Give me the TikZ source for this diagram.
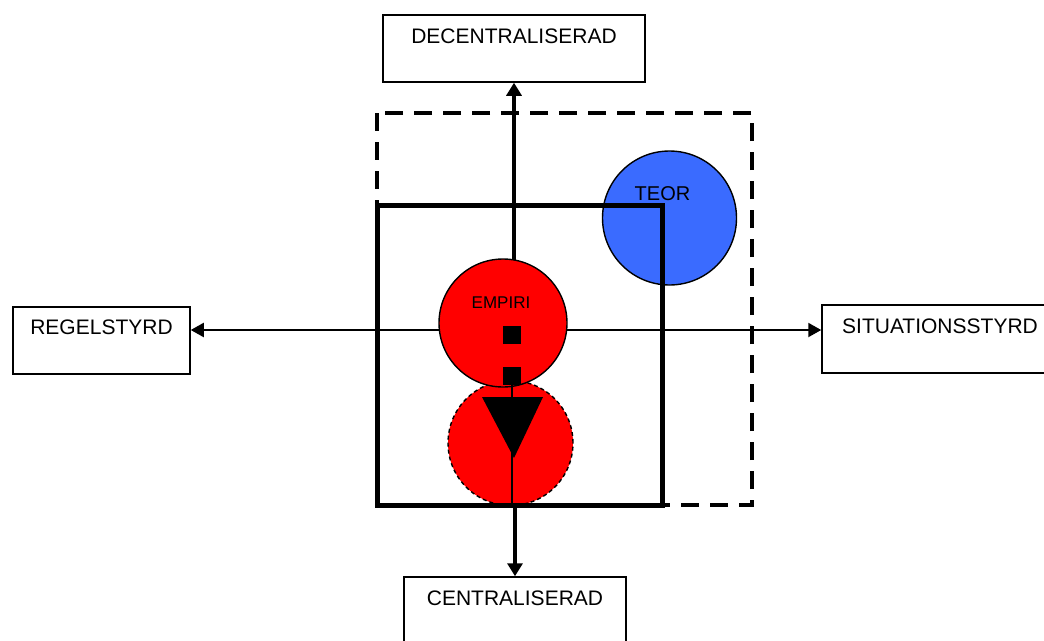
\documentclass[tikz,border=0pt]{standalone}
\usepackage{fontspec}
\setmainfont{Liberation Sans}
\usetikzlibrary{arrows.meta}
\definecolor{teorblue}{HTML}{3A6BFF}
\definecolor{empred}{HTML}{FF0000}
\begin{document}
\begin{tikzpicture}[x=1pt,y=-1pt,
  box/.style={draw, line width=1.5pt, fill=white, inner xsep=0pt, inner ysep=0pt,
              font=\fontsize{21}{24}\selectfont},
  conn/.style={line width=2pt, {Triangle[length=13pt,width=14pt]}-{Triangle[length=13pt,width=14pt]}},
  vconn/.style={line width=4pt, -{Triangle[length=13pt,width=15pt]}},
  disc/.style={circle, draw, line width=1.4pt, inner sep=0pt},
  lbl/.style={anchor=base, label distance=0pt},
  sq/.style={fill=black, minimum size=18pt, inner sep=0pt},
  dashrect/.style={draw, line width=4.5pt, dash pattern=on 18pt off 11pt},
  solidrect/.style={draw, line width=5pt}
]
\useasboundingbox (0,0) rectangle (1044,640);
\clip (0,0) rectangle (1044,640);

% boxes
\node[box, minimum width=262pt, text height=28pt, text depth=39pt] (dec) at (514,48.5) {DECENTRALISERAD};
\node[box, minimum width=177pt, text height=27pt, text depth=40pt] (reg) at (101.5,340.5) {REGELSTYRD};
\node[box, minimum width=236pt, text height=28pt, text depth=40pt] (sit) at (940,339) {SITUATIONSSTYRD};
\node[box, minimum width=222pt, text height=28pt, text depth=39pt] (cen) at (515,610.5) {CENTRALISERAD};

% frame coordinates
\coordinate (d1) at (377,113);
\coordinate (d2) at (752,505);
\coordinate (r1) at (377,205);
\coordinate (r2) at (662,505);
\coordinate (hy) at (0,330);

% dashed frame
\draw[dashrect] (d1) rectangle (d2);

% TEOR circle
\node[disc, fill=teorblue, minimum size=134pt,
      label={[lbl, font=\fontsize{20}{22}\selectfont, xshift=-7pt, yshift=24pt]center:TEOR}] (teor) at (669.5,218) {};

% solid frame
\draw[solidrect] (r1) rectangle (r2);

% horizontal connector
\draw[conn] (reg.east |- hy) -- (sit.west |- hy);

% vertical connectors
\node[coordinate] (empc) at (503,323) {};
\draw[vconn] (dec.south |- empc) -- (dec.south);
\draw[vconn] (cen.north |- r2) -- (cen.north);

% lower circle
\node[disc, fill=empred, dash pattern=on 4pt off 3pt, minimum size=125pt] (low) at (510.5,443) {};
% EMPIRI circle
\node[disc, fill=empred, minimum size=128pt,
      label={[lbl, font=\fontsize{17}{20}\selectfont, xshift=-2pt, yshift=20pt]center:EMPIRI}] (emp) at (503,323) {};

% redraw bottom of solid frame over circle
\draw[line width=5pt] (r1 |- r2) -- (r2);

% squares, triangle, thin line
\node[sq] (sq1) at (512,334.5) {};
\node[sq] (sq2) at (512,376) {};
\fill (482,397) -- (543,397) -- (514,458) -- cycle;
\draw[line width=1.5pt] (sq2.south) -- (sq2.south |- r2);
\end{tikzpicture}
\end{document}
